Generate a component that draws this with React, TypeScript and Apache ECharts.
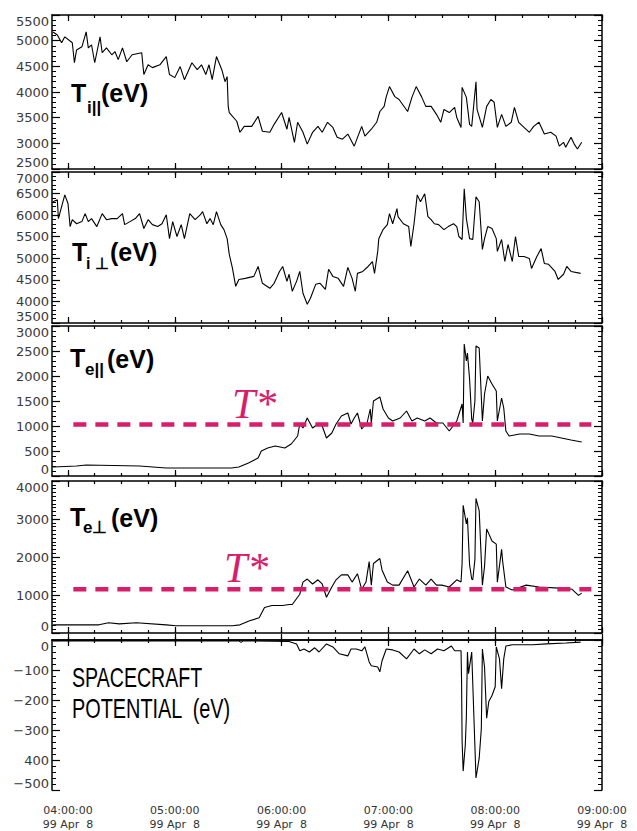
import React, { useEffect, useRef } from "react";
import * as echarts from "echarts";

// ---------- data (time in decimal hours UT, values in eV) ----------
const hourTicks = [4, 5, 6, 7, 8, 9];
const quarterTicks = [4, 4.25, 4.5, 4.75, 5, 5.25, 5.5, 5.75, 6, 6.25, 6.5, 6.75, 7, 7.25, 7.5, 7.75, 8, 8.25, 8.5, 8.75, 9];
const timeLabels = ["04:00:00", "05:00:00", "06:00:00", "07:00:00", "08:00:00", "09:00:00"];
const dateLabel = "99 Apr  8";

const tStarParallel = 1030;
const tStarPerp = 1150;

const tiParallel: [number, number][] = [
  [3.86, 5170], [3.9, 5110], [3.94, 4960], [3.97, 5075], [4.04, 4960], [4.06, 4570], [4.08, 4820], [4.13, 4880],
  [4.17, 5170], [4.19, 4860], [4.22, 4920], [4.25, 4570], [4.3, 5075], [4.32, 4765], [4.36, 4860], [4.41, 4725],
  [4.44, 4785], [4.47, 4630], [4.51, 4860], [4.55, 4590], [4.6, 4725], [4.69, 4765], [4.71, 4340], [4.75, 4530],
  [4.79, 4475], [4.86, 4530], [4.92, 4690], [4.95, 4340], [5.0, 4280], [5.05, 4495], [5.09, 4240], [5.16, 4570],
  [5.21, 4435], [5.25, 4530], [5.29, 4340], [5.32, 4530], [5.35, 4240], [5.39, 4690], [5.44, 4435], [5.47, 4200],
  [5.49, 4300], [5.5, 3720], [5.51, 3600], [5.58, 3430], [5.61, 3215], [5.65, 3330], [5.72, 3330], [5.78, 3525],
  [5.82, 3235], [5.89, 3215], [5.93, 3370], [6.0, 3600], [6.05, 3275], [6.07, 3505], [6.12, 3020], [6.15, 3410],
  [6.2, 3215], [6.24, 2985], [6.29, 3215], [6.34, 3330], [6.38, 3215], [6.43, 3410], [6.48, 3310], [6.52, 3120],
  [6.57, 3080], [6.62, 3180], [6.68, 2945], [6.75, 3330], [6.78, 3140], [6.84, 3275], [6.89, 3410], [6.92, 3620],
  [6.96, 3720], [6.98, 3910], [7.01, 4105], [7.06, 3910], [7.1, 3855], [7.18, 3620], [7.22, 3895], [7.26, 4105],
  [7.31, 3910], [7.35, 3720], [7.4, 3720], [7.45, 3565], [7.49, 3410], [7.52, 3660], [7.57, 3600], [7.62, 3700],
  [7.64, 3505], [7.68, 3310], [7.69, 4090], [7.73, 3895], [7.76, 3370], [7.78, 3330], [7.82, 4200], [7.83, 3660],
  [7.88, 3310], [7.92, 3720], [7.96, 3855], [7.99, 3800], [8.02, 3310], [8.06, 3565], [8.1, 3330], [8.15, 3410],
  [8.18, 3700], [8.22, 3410], [8.27, 3310], [8.32, 3215], [8.36, 3330], [8.41, 3410], [8.46, 3180], [8.52, 3215],
  [8.57, 3140], [8.6, 2945], [8.64, 3020], [8.66, 2925], [8.71, 3120], [8.74, 2985], [8.77, 2890], [8.81, 3020],
];

const tiPerp: [number, number][] = [
  [3.86, 6310], [3.9, 6355], [3.91, 5920], [3.94, 6195], [3.97, 6470], [4.0, 6265], [4.02, 5735], [4.04, 5895],
  [4.08, 5800], [4.13, 5850], [4.16, 6035], [4.19, 5850], [4.22, 5920], [4.27, 5735], [4.32, 6035], [4.36, 5895],
  [4.41, 5920], [4.46, 5920], [4.51, 6035], [4.53, 5780], [4.58, 5850], [4.63, 5920], [4.67, 6035], [4.71, 5690],
  [4.75, 5895], [4.79, 5780], [4.84, 5735], [4.88, 5800], [4.92, 6010], [4.95, 5455], [4.98, 5850], [5.02, 5505],
  [5.06, 5780], [5.09, 5455], [5.14, 6035], [5.19, 5895], [5.24, 6010], [5.26, 6080], [5.3, 5800], [5.33, 5920],
  [5.36, 5780], [5.39, 6080], [5.43, 5780], [5.46, 5665], [5.49, 5455], [5.51, 5090], [5.54, 4765], [5.57, 4350],
  [5.6, 4510], [5.66, 4535], [5.74, 4580], [5.78, 4810], [5.82, 4420], [5.89, 4305], [5.93, 4420], [5.98, 4695],
  [6.01, 4810], [6.05, 4465], [6.07, 4630], [6.1, 4235], [6.14, 4465], [6.17, 4695], [6.2, 4190], [6.24, 3935],
  [6.27, 4075], [6.32, 4400], [6.36, 4420], [6.41, 4280], [6.44, 4745], [6.48, 4580], [6.53, 4535], [6.58, 4350],
  [6.62, 4790], [6.66, 4535], [6.69, 4235], [6.71, 4650], [6.76, 4695], [6.81, 4810], [6.85, 4925], [6.87, 4650],
  [6.9, 5160], [6.91, 5455], [6.95, 5665], [6.99, 5780], [7.01, 6035], [7.04, 5800], [7.08, 6150], [7.09, 5965],
  [7.14, 5800], [7.19, 5735], [7.21, 5275], [7.24, 5800], [7.27, 6470], [7.3, 6310], [7.34, 6495], [7.37, 5965],
  [7.4, 5895], [7.43, 5800], [7.47, 5780], [7.52, 5665], [7.56, 5735], [7.61, 5800], [7.64, 5735], [7.66, 5505],
  [7.69, 5435], [7.71, 6610], [7.73, 5920], [7.76, 5455], [7.79, 5435], [7.82, 6425], [7.85, 6310], [7.88, 5205],
  [7.9, 5455], [7.93, 5735], [7.97, 5690], [8.01, 5455], [8.02, 5160], [8.06, 5435], [8.09, 4925], [8.12, 5320],
  [8.16, 4925], [8.19, 5505], [8.22, 5040], [8.27, 5040], [8.32, 4995], [8.34, 4765], [8.39, 5040], [8.43, 5225],
  [8.46, 4880], [8.5, 4860], [8.56, 4695], [8.59, 4510], [8.64, 4630], [8.67, 4810], [8.71, 4695], [8.8, 4650],
];

const teParallel: [number, number][] = [
  [3.86, 180], [4.08, 200], [4.17, 220], [4.67, 200], [4.92, 160], [5.16, 160], [5.53, 160], [5.6, 180],
  [5.69, 260], [5.78, 360], [5.81, 500], [5.87, 560], [5.94, 600], [6.03, 560], [6.09, 640], [6.15, 800],
  [6.17, 1040], [6.2, 960], [6.24, 1160], [6.29, 960], [6.34, 1040], [6.38, 1000], [6.42, 760], [6.47, 860],
  [6.51, 1040], [6.56, 1200], [6.62, 1260], [6.65, 1040], [6.68, 1160], [6.71, 1260], [6.75, 940], [6.8, 1060],
  [6.83, 1340], [6.84, 1060], [6.86, 1500], [6.92, 1580], [6.95, 1340], [7.0, 1160], [7.04, 1100], [7.11, 1160],
  [7.17, 1300], [7.22, 1100], [7.27, 1160], [7.34, 1100], [7.39, 1160], [7.45, 1060], [7.51, 1060], [7.57, 900],
  [7.64, 1100], [7.69, 1440], [7.7, 1060], [7.71, 2640], [7.73, 2300], [7.74, 2460], [7.76, 1940], [7.78, 1140],
  [7.79, 1060], [7.81, 1500], [7.82, 2600], [7.85, 2560], [7.88, 1100], [7.9, 1640], [7.93, 2000], [7.97, 1840],
  [8.01, 1700], [8.02, 1100], [8.06, 1560], [8.08, 1360], [8.1, 900], [8.13, 800], [8.23, 840], [8.32, 840],
  [8.41, 800], [8.53, 800], [8.62, 760], [8.71, 720], [8.81, 680],
];

const tePerp: [number, number][] = [
  [3.86, 215], [4.29, 215], [4.38, 270], [4.48, 240], [4.64, 270], [4.92, 215], [5.01, 190], [5.54, 190],
  [5.61, 215], [5.7, 320], [5.79, 400], [5.84, 670], [5.91, 725], [6.01, 725], [6.07, 750], [6.1, 750],
  [6.17, 1020], [6.2, 1340], [6.24, 1420], [6.29, 1290], [6.34, 1400], [6.38, 1290], [6.42, 940], [6.47, 1210],
  [6.51, 1400], [6.56, 1530], [6.62, 1530], [6.66, 1340], [6.71, 1560], [6.75, 1150], [6.79, 1340], [6.82, 1880],
  [6.84, 1260], [6.86, 1830], [6.92, 1960], [6.94, 1660], [6.99, 1340], [7.04, 1260], [7.1, 1260], [7.18, 1640],
  [7.24, 1210], [7.29, 1420], [7.35, 1260], [7.4, 1420], [7.45, 1260], [7.5, 1260], [7.57, 1210], [7.64, 1400],
  [7.68, 1340], [7.69, 1830], [7.7, 3360], [7.73, 2870], [7.74, 3030], [7.76, 1800], [7.78, 1420], [7.79, 1400],
  [7.81, 1930], [7.82, 3540], [7.85, 3220], [7.88, 1260], [7.9, 1750], [7.92, 2740], [7.97, 2420], [8.01, 2340],
  [8.02, 1340], [8.06, 2200], [8.07, 1880], [8.1, 1210], [8.16, 1130], [8.29, 1260], [8.41, 1210], [8.6, 1180],
  [8.72, 1150], [8.78, 990], [8.81, 1050],
];

const scPotential: [number, number][] = [
  [3.86, -3], [5.6, -3], [5.62, -8], [5.64, -3], [6.07, -5], [6.14, -13], [6.17, -36], [6.21, -30],
  [6.26, -40], [6.31, -26], [6.35, -40], [6.42, -13], [6.48, -23], [6.54, -46], [6.62, -53], [6.65, -30],
  [6.7, -30], [6.75, -36], [6.78, -23], [6.82, -73], [6.84, -86], [6.9, -90], [6.92, -106], [6.94, -70],
  [6.98, -30], [7.04, -33], [7.1, -40], [7.17, -63], [7.24, -30], [7.29, -46], [7.34, -33], [7.4, -46],
  [7.46, -30], [7.52, -36], [7.59, -20], [7.62, -36], [7.68, -36], [7.685, -136], [7.69, -337], [7.7, -437],
  [7.72, -350], [7.73, -255], [7.74, -40], [7.75, -112], [7.78, -40], [7.79, -146], [7.81, -354], [7.82, -460],
  [7.85, -394], [7.87, -295], [7.88, -30], [7.9, -90], [7.92, -261], [7.94, -205], [7.97, -185], [8.0, -156],
  [8.01, -23], [8.04, -63], [8.06, -162], [8.08, -63], [8.1, -20], [8.16, -16], [8.35, -16], [8.48, -13],
  [8.66, -10], [8.8, -7],
];

const tStarSpan = [4.05, 8.9];

// ---------- layout / style ----------
const MAGENTA = "#d81e6a";
const X_MIN = 3.85;
const X_MAX = 9;
const GRID_LEFT = 52;
const GRID_RIGHT = 35;

const panels = [
  { top: 15, height: 154, min: 2500, max: 5500, interval: 500, minor: 5, data: tiParallel, tStar: null as number | null },
  { top: 172, height: 151, min: 3500, max: 7000, interval: 500, minor: 5, data: tiPerp, tStar: null as number | null },
  { top: 326, height: 150, min: 0, max: 3000, interval: 500, minor: 5, data: teParallel, tStar: tStarParallel },
  { top: 481, height: 152, min: 0, max: 4000, interval: 1000, minor: 10, data: tePerp, tStar: tStarPerp },
  { top: 640, height: 152, min: -500, max: 0, interval: 100, minor: 5, data: scPotential, tStar: null as number | null },
];

function potLabel(v: number) {
  if (v === 0) return "0";
  if (v === -400) return "400";
  return "\u2212" + Math.abs(v);
}

function buildOption() {
  const grid: any[] = [];
  const xAxis: any[] = [];
  const yAxis: any[] = [];
  const series: any[] = [];
  const lineStyle = { color: "#000", width: 1.5 };

  panels.forEach((p, g) => {
    grid.push({ left: GRID_LEFT, right: GRID_RIGHT, top: p.top, height: p.height, containLabel: false });
    const isLast = g === panels.length - 1;
    const mk = (position: string, major: boolean) => ({
      type: "value",
      gridIndex: g,
      position,
      min: X_MIN,
      max: X_MAX,
      axisLine: { show: major, lineStyle },
      splitLine: { show: false },
      axisTick: {
        show: true,
        inside: true,
        length: major ? 6 : 3,
        customValues: major ? hourTicks : quarterTicks,
        lineStyle: { color: "#000", width: 1.2 },
      },
      axisLabel: {
        show: major && position === "bottom" && isLast,
        customValues: hourTicks,
        margin: 13,
        fontFamily: "DejaVu Sans",
        fontSize: 11,
        lineHeight: 14,
        color: "#333",
        formatter: (v: number) => {
          const i = hourTicks.indexOf(Math.round(v));
          return (timeLabels[i] ?? "") + "\n" + dateLabel;
        },
      },
    });
    xAxis.push(mk("bottom", true), mk("bottom", false), mk("top", true), mk("top", false));

    const yBase = {
      type: "value",
      gridIndex: g,
      min: p.min,
      max: p.max,
      interval: p.interval,
      axisLine: { show: true, lineStyle },
      splitLine: { show: false },
      axisTick: { show: true, inside: true, length: 8, lineStyle: { color: "#000", width: 1.2 } },
      minorTick: { show: true, splitNumber: p.minor, length: 4, lineStyle: { color: "#000", width: 1 } },
    };
    yAxis.push({
      ...yBase,
      position: "left",
      axisLabel: {
        show: true,
        margin: 3,
        fontFamily: "DejaVu Sans",
        fontSize: 13,
        color: "#3a3a3a",
        showMinLabel: true,
        showMaxLabel: true,
        verticalAlignMinLabel: "bottom",
        verticalAlignMaxLabel: "top",
        formatter: (v: number) => (g === 4 ? potLabel(v) : String(v)),
      },
    });
    yAxis.push({ ...yBase, position: "right", axisLabel: { show: false } });

    series.push({
      type: "line",
      xAxisIndex: g * 4,
      yAxisIndex: g * 2,
      data: p.data,
      showSymbol: false,
      symbol: "none",
      lineStyle: { color: "#000", width: 1.1 },
      clip: true,
    });
    if (p.tStar !== null) {
      series.push({
        type: "line",
        xAxisIndex: g * 4,
        yAxisIndex: g * 2,
        data: [[tStarSpan[0], p.tStar], [tStarSpan[1], p.tStar]],
        showSymbol: false,
        symbol: "none",
        lineStyle: { color: MAGENTA, width: 4.5, type: [13, 9] },
        z: 3,
      });
    }
  });

  const bold = (size: number) => `bold ${size}px "Liberation Sans", Arial, sans-serif`;
  const txt = (x: number, y: number, text: string, font: string, fill = "#000", scaleX = 1) => ({
    type: "text",
    x,
    y,
    scaleX,
    z: 10,
    style: { text, x: 0, y: 0, font, fill, align: "left", verticalAlign: "middle" },
  });
  const starFont = `italic 42px "Liberation Serif", "Times New Roman", serif`;
  const plainFont = `28px "Liberation Sans", Arial, sans-serif`;

  const graphic = [
    txt(71, 93, "T", bold(25)),
    txt(87, 107, "i||", bold(17)),
    txt(101, 93, "(eV)", bold(25)),

    txt(72, 252, "T", bold(25)),
    txt(86, 263, "i \u22A5", bold(16)),
    txt(110, 252, "(eV)", bold(25)),

    txt(70, 358, "T", bold(25)),
    txt(85, 369, "e||", bold(17)),
    txt(107, 359, "(eV)", bold(25)),

    txt(70, 517, "T", bold(25)),
    txt(83, 527, "e\u22A5", bold(17)),
    txt(111, 518, "(eV)", bold(25)),

    txt(232, 404, "T*", starFont, MAGENTA),
    txt(224, 568, "T*", starFont, MAGENTA),

    txt(72, 677, "SPACECRAFT", plainFont, "#000", 0.7),
    txt(72, 708, "POTENTIAL  (eV)", plainFont, "#000", 0.71),
  ];

  return {
    animation: false,
    backgroundColor: "#fff",
    grid,
    xAxis,
    yAxis,
    series,
    graphic,
  };
}

export default function App() {
  const ref = useRef<HTMLDivElement>(null);
  useEffect(() => {
    document.body.style.margin = "0";
    if (!ref.current) return;
    const chart = echarts.init(ref.current, undefined, { renderer: "svg" });
    chart.setOption(buildOption() as any);
    return () => chart.dispose();
  }, []);
  return <div ref={ref} style={{ width: 637, height: 831, background: "#fff" }} />;
}
